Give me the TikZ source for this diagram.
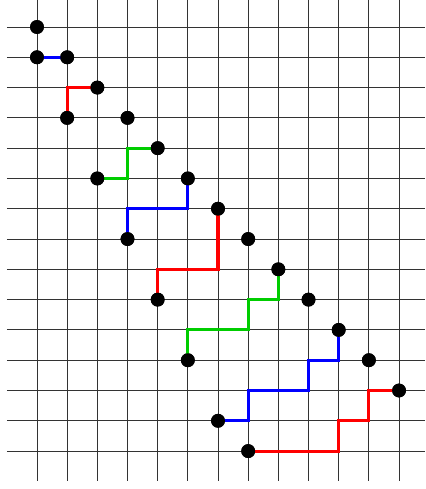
\documentclass[tikz,border=0pt]{standalone}
\begin{document}
\begin{tikzpicture}[x=1cm,y=-1.004cm,
  gridline/.style={line width=0.9pt,black!80},
  pathline/.style={line width=2.9pt,line join=miter},
  dot/.style={circle,fill=black,inner sep=0pt,minimum size=0.46cm}]
\definecolor{pgreen}{RGB}{0,205,0}
\useasboundingbox (-1.226,-0.891) rectangle (12.861,15.252);
% grid
\foreach \i in {0,...,12} \draw[gridline] (\i,-0.891) -- (\i,14.99);
\foreach \j in {0,...,14} \draw[gridline] (-0.994,\j) -- (12.861,\j);
% dots
\node[dot] (a0) at (0,0) {};
\node[dot] (a1) at (0,1) {};
\node[dot] (b1) at (1,1) {};
\node[dot] (b2) at (2,2) {};
\node[dot] (a3) at (1,3) {};
\node[dot] (b3) at (3,3) {};
\node[dot] (b4) at (4,4) {};
\node[dot] (a5) at (2,5) {};
\node[dot] (b5) at (5,5) {};
\node[dot] (b6) at (6,6) {};
\node[dot] (a7) at (3,7) {};
\node[dot] (b7) at (7,7) {};
\node[dot] (b8) at (8,8) {};
\node[dot] (a9) at (4,9) {};
\node[dot] (b9) at (9,9) {};
\node[dot] (b10) at (10,10) {};
\node[dot] (a11) at (5,11) {};
\node[dot] (b11) at (11,11) {};
\node[dot] (b12) at (12,12) {};
\node[dot] (a13) at (6,13) {};
\node[dot] (a14) at (7,14) {};
% staircases
\draw[pathline,blue] (a1.center) -- (b1.center);
\draw[pathline,red] (a3.center) |- (b2.center);
\draw[pathline,pgreen] (a5.center) -- (3,5) -- (3,4) -- (b4.center);
\draw[pathline,blue] (a7.center) -- (3,6) -- (5,6) -- (b5.center);
\draw[pathline,red] (a9.center) -- (4,8) -- (6,8) -- (b6.center);
\draw[pathline,pgreen] (a11.center) -- (5,10) -- (7,10) -- (7,9) -- (8,9) -- (b8.center);
\draw[pathline,blue] (a13.center) -- (7,13) -- (7,12) -- (9,12) -- (9,11) -- (10,11) -- (b10.center);
\draw[pathline,red] (a14.center) -- (10,14) -- (10,13) -- (11,13) -- (11,12) -- (b12.center);
% redraw dots on top of the staircases
\foreach \n in {a0,a1,b1,b2,a3,b3,b4,a5,b5,b6,a7,b7,b8,a9,b9,b10,a11,b11,b12,a13,a14}
  \fill (\n.center) circle (0.23cm);
\end{tikzpicture}
\end{document}
